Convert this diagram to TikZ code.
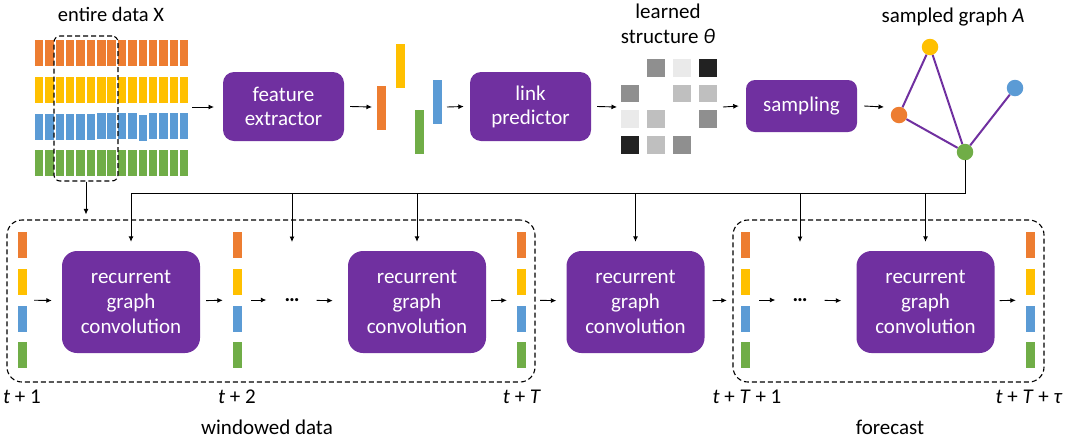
\documentclass[tikz,border=0pt]{standalone}
\usepackage{fontspec}
\setmainfont{Carlito}
\usetikzlibrary{arrows.meta}
\definecolor{cO}{HTML}{ED7D31}
\definecolor{cY}{HTML}{FFC000}
\definecolor{cB}{HTML}{5B9BD5}
\definecolor{cG}{HTML}{70AD47}
\definecolor{cP}{HTML}{7030A0}
\definecolor{g1}{HTML}{8F8F8F}
\definecolor{g2}{HTML}{EAEAEA}
\definecolor{g3}{HTML}{222222}
\definecolor{g4}{HTML}{BFBFBF}
\begin{document}
\begin{tikzpicture}[x=1pt,y=-1pt,
  font=\fontsize{21}{25}\selectfont,
  proc/.style={fill=cP,draw=none,rounded corners=11pt,text=white,align=center,inner sep=0pt},
  arr/.style={-{Latex[length=5.5pt,width=5pt]},line width=0.9pt},
  conn/.style={line width=0.9pt},
  dbox/.style={draw,dashed,dash pattern=on 5pt off 3pt,line width=1.1pt,rounded corners=12pt},
  bar/.style={draw=none,minimum width=9pt,minimum height=26pt,inner sep=0pt},
  gnode/.style={circle,draw=none,minimum size=16.5pt,inner sep=0pt},
  edge/.style={cP,line width=2pt},
  dots/.style={inner sep=0pt,text height=3pt,text depth=0pt},
  lab/.style={inner sep=0pt,anchor=base}]
\useasboundingbox (0,0) rectangle (1065,440);

% ---------- data matrix ----------
\foreach \c/\off in {0/0,1/0,2/0,3/0,4/0,5/0,6/-1,7/-1,8/-1,9/-1,10/0.5,11/-1,12/-1,13/-1,14/-1}{
  \fill[cO] (35+\c*10.35,40) rectangle ++(8.4,26);
  \fill[cY] (35+\c*10.35,77) rectangle ++(8.4,26);
  \fill[cB] (35+\c*10.35,114+\off) rectangle ++(8.4,26);
  \fill[cG] (35+\c*10.35,150) rectangle ++(8.4,26);
}
\node[dbox,rounded corners=6pt,minimum width=64pt,minimum height=145pt] (dsel) at (86,108.5) {};
\node[lab,font=\fontsize{20.5}{25}\selectfont] (tX) at (111,21) {entire data X};
\coordinate (dataR) at (192,107);

% ---------- top pipeline ----------
\node[proc,minimum width=121pt,minimum height=69pt] (fe) at (283.5,106.5) {feature\\[-1pt]extractor};
\fill[cO] (377,86) rectangle (386,130);
\fill[cY] (396,44) rectangle (405,88);
\fill[cG] (415,110) rectangle (424,154);
\fill[cB] (433,80) rectangle (442,124);
\coordinate (featL) at (372,107);
\coordinate (featR) at (444,107);
\node[proc,minimum width=121pt,minimum height=69pt] (lp) at (530.5,106.5) {link\\[-1pt]predictor};

% matrix theta
\foreach \r/\cc/\col in {0/1/g1,0/2/g2,0/3/g3,1/0/g1,1/2/g4,1/3/g4,2/0/g2,2/1/g4,2/3/g1,3/0/g3,3/1/g4,3/2/g1}{
  \fill[\col] (621+\cc*26,59+\r*25.7) rectangle ++(17.5,17.5);
}
\coordinate (thL) at (617,107);
\coordinate (thR) at (720,107);
\node[align=center,inner sep=0pt,font=\fontsize{21}{24.5}\selectfont] (tTh) at (668,24) {learned\\structure \textit{θ}};

\node[proc,minimum width=111pt,minimum height=52pt,rounded corners=9pt] (smp) at (801.5,106) {sampling};

% graph
\node[gnode,fill=cY] (gY) at (930,47) {};
\node[gnode,fill=cO] (gO) at (899,115) {};
\node[gnode,fill=cB] (gB) at (1015,88) {};
\node[gnode,fill=cG] (gG) at (965,152) {};
\draw[edge] (gY) -- (gO);
\draw[edge] (gY) -- (gG);
\draw[edge] (gO) -- (gG);
\draw[edge] (gB) -- (gG);
\node[lab] (tA) at (953,22) {sampled graph \textit{A}};
\coordinate (grL) at (884,107);

\draw[arr] (dataR) -- ++(22,0) coordinate (feIn);
\draw[arr] ([xshift=6pt]fe.east) -- (featL);
\draw[arr] ([xshift=3pt]featR) -- ([xshift=-6pt]lp.west);
\draw[arr] ([xshift=6pt]lp.east) -- (thL);
\draw[arr] ([xshift=3pt]thR) -- ([xshift=-7pt]smp.west);
\draw[arr] ([xshift=7pt]smp.east) -- (grL);

% ---------- bottom row ----------
\node[dbox,minimum width=528pt,minimum height=162pt,inner sep=0pt,rounded corners=15pt] (win) at (271,301) {};
\node[dbox,minimum width=311pt,minimum height=162pt,inner sep=0pt,rounded corners=15pt] (fc) at (888.5,301) {};

\newcommand{\tcol}[2]{%
  \node[bar,fill=cO] at (#1,245) {};
  \node[bar,fill=cY] at (#1,282) {};
  \node[bar,fill=cB] at (#1,318.5) {};
  \node[bar,fill=cG] at (#1,355) {};
  \node[draw=none,minimum width=9pt,minimum height=136pt,inner sep=0pt] (#2) at (#1,300) {};
}
\tcol{22.5}{c1}
\tcol{237.5}{c2}
\tcol{521.5}{cT}
\tcol{745.5}{cT1}
\tcol{1030.5}{cTt}

\node[proc,minimum width=138pt,minimum height=102pt,rounded corners=15pt] (b1) at (131,302) {recurrent\\graph\\convolution};
\node[proc,minimum width=138pt,minimum height=102pt,rounded corners=15pt] (b2) at (417,302) {recurrent\\graph\\convolution};
\node[proc,minimum width=138pt,minimum height=102pt,rounded corners=15pt] (b3) at (635.5,302) {recurrent\\graph\\convolution};
\node[proc,minimum width=138pt,minimum height=102pt,rounded corners=15pt] (b4) at (925.5,302) {recurrent\\graph\\convolution};

\node[dots] (d1) at (292,300) {\textbf{…}};
\node[dots] (d2) at (800,300) {\textbf{…}};

\draw[arr,shorten <=7pt,shorten >=10pt] (c1) -- (b1);
\draw[arr,shorten <=6pt,shorten >=10pt] (b1) -- (c2);
\draw[arr,shorten <=9pt] (c2) -- ([xshift=-18pt]d1.west);
\draw[arr,shorten <=17pt,shorten >=15pt] (d1) -- (b2);
\draw[arr,shorten <=5pt,shorten >=10pt] (b2) -- (cT);
\draw[arr,shorten <=14pt,shorten >=10pt] (cT) -- (b3);
\draw[arr,shorten <=8pt,shorten >=14pt] (b3) -- (cT1);
\draw[arr,shorten <=9pt] (cT1) -- ([xshift=-17pt]d2.west);
\draw[arr,shorten <=17pt,shorten >=15pt] (d2) -- (b4);
\draw[arr,shorten <=5pt,shorten >=10pt] (b4) -- (cTt);

% bus from sampled graph
\coordinate (bus1) at (b1.center |- 0,193);
\coordinate (busd1) at (d1.center |- 0,193);
\coordinate (bus2) at (b2.center |- 0,193);
\coordinate (bus3) at (b3.center |- 0,193);
\coordinate (busd2) at (d2.center |- 0,193);
\coordinate (bus4) at (b4.center |- 0,193);
\draw[conn] (gG) |- (bus1);
\draw[arr,shorten >=9pt] (bus1) -- (b1);
\draw[arr] (busd1) -- ++(0,49);
\draw[arr,shorten >=9pt] (bus2) -- (b2);
\draw[arr,shorten >=9pt] (bus3) -- (b3);
\draw[arr] (busd2) -- ++(0,49);
\draw[arr,shorten >=9pt] (bus4) -- (b4);
\draw[arr,shorten >=5pt] (dsel.south) -- (dsel.south |- win.north);

% labels
\node[lab] (l1) at (22,403) {\textit{t} + 1};
\node[lab] (l2) at (237,403) {\textit{t} + 2};
\node[lab] (l3) at (522,403) {\textit{t} + \textit{T}};
\node[lab] (l4) at (747,403) {\textit{t} + \textit{T} + 1};
\node[lab] (l5) at (1029,403) {\textit{t} + \textit{T} + \textit{τ}};
\node[lab] (lw) at (267,434) {windowed data};
\node[lab] (lf) at (890,434) {forecast};
\end{tikzpicture}
\end{document}
